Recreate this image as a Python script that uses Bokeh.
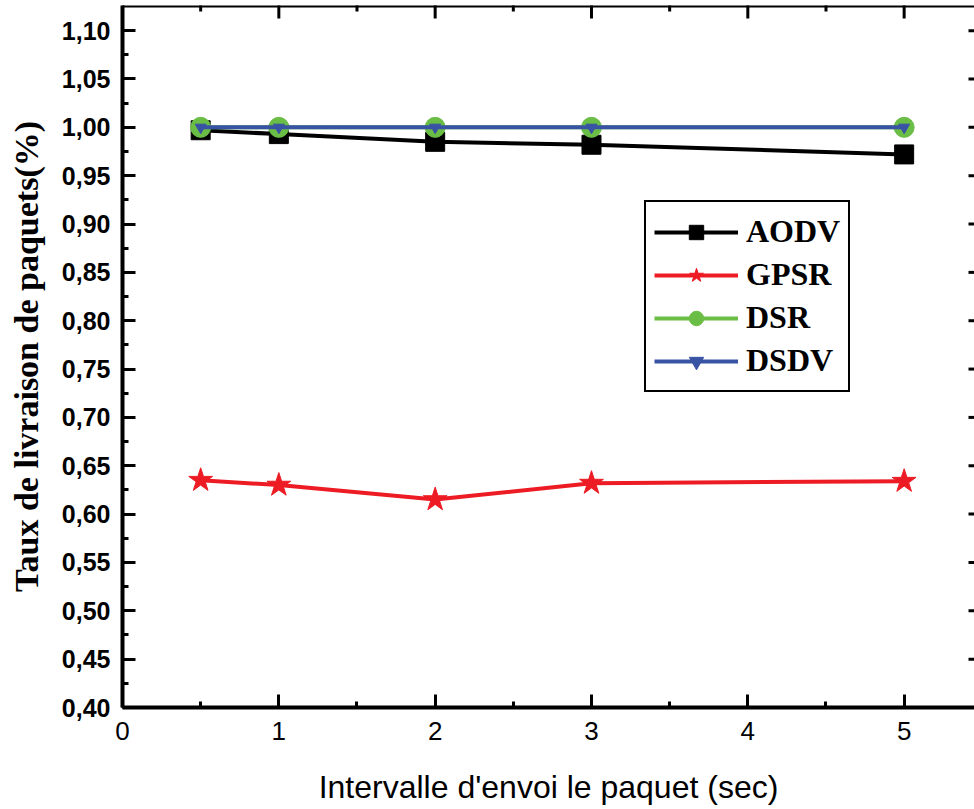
import math
from bokeh.plotting import figure
from bokeh.models import Range1d, FixedTicker, Legend, LegendItem, Span
from bokeh.embed import file_html
from bokeh.resources import INLINE

# ---- data ----
x_sec = [0.5, 1, 2, 3, 5]
aodv = [0.997, 0.993, 0.985, 0.982, 0.972]
gpsr = [0.635, 0.630, 0.615, 0.632, 0.634]
dsr = [1.0, 1.0, 1.0, 1.0, 1.0]
dsdv = [1.0, 1.0, 1.0, 1.0, 1.0]

x_major = [0, 1, 2, 3, 4, 5]
x_minor = [0.5, 1.5, 2.5, 3.5, 4.5]
y_major = [0.40, 0.45, 0.50, 0.55, 0.60, 0.65, 0.70, 0.75, 0.80, 0.85, 0.90, 0.95, 1.00, 1.05, 1.10]
y_minor = [0.425, 0.475, 0.525, 0.575, 0.625, 0.675, 0.725, 0.775, 0.825, 0.875, 0.925, 0.975, 1.025, 1.075]
y_labels = ["0,40", "0,45", "0,50", "0,55", "0,60", "0,65", "0,70", "0,75", "0,80", "0,85", "0,90", "0,95", "1,00", "1,05", "1,10"]

X_START, X_END = 0, 5.45
Y_START, Y_END = 0.40, 1.126

C_AODV = "#000000"
C_GPSR = "#ed1c24"
C_DSR = "#6abd45"
C_DSDV = "#3953a4"

p = figure(width=974, height=809,
           x_range=Range1d(X_START, X_END), y_range=Range1d(Y_START, Y_END),
           output_backend="svg", toolbar_location=None,
           min_border_left=122, min_border_right=0,
           min_border_top=5, min_border_bottom=102)
p.xgrid.visible = False
p.ygrid.visible = False
p.outline_line_color = None
p.background_fill_color = "white"
p.border_fill_color = "white"

# top frame edge (right edge lies outside the picture in the reference)
p.add_layout(Span(location=Y_END, dimension="width", line_color="black", line_width=4))

bottom_ax = p.below[0]
left_ax = p.left[0]
bottom_ax.ticker = FixedTicker(ticks=x_major, minor_ticks=x_minor)
left_ax.ticker = FixedTicker(ticks=y_major, minor_ticks=y_minor)
left_ax.major_label_overrides = {v: s for v, s in zip(y_major, y_labels)}

for ax in [bottom_ax, left_ax]:
    ax.axis_line_width = 4
    ax.axis_line_color = "black"
    ax.major_tick_line_width = 3
    ax.minor_tick_line_width = 3
    ax.major_tick_in = 13
    ax.major_tick_out = 0
    ax.minor_tick_in = 6
    ax.minor_tick_out = 0

bottom_ax.major_label_text_font = "Liberation Sans"
bottom_ax.major_label_text_font_size = "26px"
bottom_ax.major_label_text_color = "black"
bottom_ax.major_label_standoff = 14
bottom_ax.axis_label = "Intervalle d'envoi le paquet (sec)"
bottom_ax.axis_label_text_font = "Liberation Sans"
bottom_ax.axis_label_text_font_style = "normal"
bottom_ax.axis_label_text_font_size = "32px"
bottom_ax.axis_label_text_color = "black"
bottom_ax.axis_label_standoff = 26

left_ax.major_label_text_font = "Liberation Sans"
left_ax.major_label_text_font_style = "bold"
left_ax.major_label_text_font_size = "25px"
left_ax.major_label_text_color = "black"
left_ax.major_label_standoff = 12
left_ax.axis_label = "Taux de livraison de paquets(%)"
left_ax.axis_label_text_font = "Liberation Serif"
left_ax.axis_label_text_font_style = "bold"
left_ax.axis_label_text_font_size = "34px"
left_ax.axis_label_text_color = "black"
left_ax.axis_label_standoff = 14

# ---- inward ticks on the top and right frame edges (clipped to the frame) ----
p.scatter(x_major, [Y_END] * len(x_major), marker="dash", angle=math.pi / 2,
          size=26, line_color="black", line_width=3)
p.scatter(x_minor, [Y_END] * len(x_minor), marker="dash", angle=math.pi / 2,
          size=12, line_color="black", line_width=3)
p.scatter([X_END] * len(y_major), y_major, marker="dash",
          size=12, line_color="black", line_width=3)

# ---- series ----
l1 = p.line(x_sec, aodv, line_color=C_AODV, line_width=4)
m1 = p.scatter(x_sec, aodv, marker="square", size=19, fill_color=C_AODV, line_color=C_AODV)

l2 = p.line(x_sec, gpsr, line_color=C_GPSR, line_width=4)
m2 = p.scatter(x_sec, gpsr, marker="star", size=25, fill_color=C_GPSR, line_color=C_GPSR)

l3 = p.line(x_sec, dsr, line_color=C_DSR, line_width=4)
m3 = p.scatter(x_sec, dsr, marker="circle", size=20, fill_color=C_DSR, line_color=C_DSR)

l4 = p.line(x_sec, dsdv, line_color=C_DSDV, line_width=4)
m4 = p.scatter(x_sec, dsdv, marker="inverted_triangle", size=11, fill_color=C_DSDV, line_color=C_DSDV)

legend = Legend(items=[
    LegendItem(label="AODV", renderers=[l1, m1]),
    LegendItem(label="GPSR", renderers=[l2, m2]),
    LegendItem(label="DSR", renderers=[l3, m3]),
    LegendItem(label="DSDV", renderers=[l4, m4]),
], location=(522, 315))
legend.border_line_color = "black"
legend.border_line_alpha = 1
legend.border_line_width = 2
legend.background_fill_color = "white"
legend.background_fill_alpha = 1
legend.padding = 8
legend.spacing = 0
legend.margin = 0
legend.glyph_width = 84
legend.glyph_height = 36
legend.label_height = 43
legend.label_standoff = 8
legend.label_text_font = "Liberation Serif"
legend.label_text_font_style = "bold"
legend.label_text_font_size = "32px"
legend.label_text_color = "black"
legend.label_text_baseline = "middle"
p.add_layout(legend)

open("out.html", "w").write(file_html(p, INLINE))
